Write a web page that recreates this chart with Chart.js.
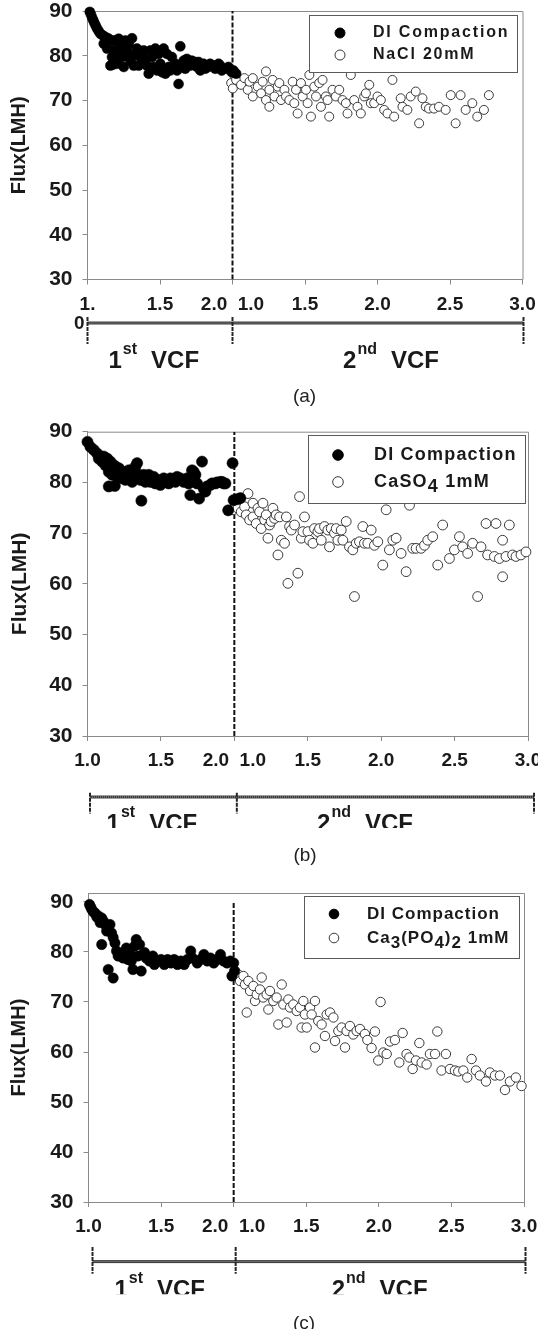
<!DOCTYPE html>
<html lang="en">
<head>
<meta charset="UTF-8">
<title>Flux(LMH) vs VCF</title>
<script src="https://cdn.jsdelivr.net/npm/chart.js@4.4.1/dist/chart.umd.min.js"></script>
<style>
  body { margin: 0; background: #fff; width: 538px; height: 1329px; position: relative; overflow: hidden; }
  canvas { position: absolute; left: 0; }
</style>
</head>
<body>
<canvas id="panelA" width="538" height="420" style="top:0px"></canvas>
<canvas id="panelB" width="538" height="460" style="top:420px"></canvas>
<canvas id="panelC" width="538" height="449" style="top:880px"></canvas>
<script>
// ---- shared labels ----
const yTicks = [30, 40, 50, 60, 70, 80, 90];
const xTickLabelsA = ['1.', '1.5', '2.0  1.0', '1.5', '2.0', '2.5', '3.0'];
const xTickLabels = ['1.0', '1.5', '2.0  1.0', '1.5', '2.0', '2.5', '3.0'];
const phaseLabels = [['1', 'st', 'VCF'], ['2', 'nd', 'VCF']];
const yTitle = 'Flux(LMH)';

// ---- panel (a): DI compaction (1st VCF) then NaCl 20mM (2nd VCF) ----
const namesA = ['DI Compaction', 'NaCl 20mM'];
const diVcfA = [1.016,1.024,1.032,1.040,1.048,1.057,1.066,1.077,1.089,1.103,
  1.112,1.117,1.132,1.135,1.147,1.158,1.164,1.169,1.175,1.181,
  1.181,1.193,1.198,1.204,1.215,1.220,1.227,1.238,1.240,1.250,
  1.261,1.273,1.284,1.285,1.296,1.307,1.319,1.330,1.341,1.353,
  1.365,1.387,1.399,1.410,1.422,1.434,1.445,1.456,1.468,1.479,
  1.491,1.502,1.514,1.525,1.537,1.548,1.560,1.571,1.582,1.606,
  1.617,1.628,1.640,1.651,1.663,1.674,1.685,1.709,1.720,1.743,
  1.755,1.766,1.778,1.800,1.812,1.835,1.846,1.869,1.881,1.904,
  1.915,1.926,1.938,1.961,1.972,1.995,2.007,2.025];
const diFluxA = [89.8,89.2,88.5,87.9,87.3,86.7,86.1,85.5,84.9,84.6,
  82.7,84.3,84.0,81.6,83.8,77.8,83.4,79.7,78.0,83.3,
  81.2,78.9,83.5,78.2,83.8,80.5,82.0,79.7,83.1,77.5,
  83.4,81.2,80.4,82.6,78.9,83.9,77.8,80.1,81.6,77.8,
  79.7,81.2,79.3,77.8,76.0,81.2,79.7,77.5,81.6,76.7,
  80.4,78.2,76.3,81.6,76.0,80.4,77.5,76.7,79.7,78.2,
  76.7,73.7,82.1,77.5,78.9,77.1,79.3,77.8,78.9,78.6,
  77.5,78.6,76.7,78.2,77.1,77.5,78.2,77.8,77.1,78.2,
  77.8,76.7,77.1,77.1,77.5,76.3,76.7,76.0];
const solVcfA = [0.991,1.002,1.013,1.025,1.059,1.082,1.105,1.117,1.140,1.140,
  1.174,1.197,1.208,1.231,1.231,1.254,1.254,1.277,1.289,1.312,
  1.323,1.335,1.358,1.369,1.392,1.415,1.426,1.438,1.449,1.472,
  1.484,1.507,1.518,1.530,1.541,1.564,1.576,1.598,1.610,1.621,
  1.644,1.656,1.667,1.690,1.713,1.736,1.759,1.782,1.793,1.816,
  1.839,1.862,1.885,1.908,1.920,1.943,1.954,1.977,2.000,2.023,
  2.046,2.069,2.103,2.115,2.160,2.172,2.206,2.229,2.264,2.287,
  2.310,2.333,2.355,2.390,2.424,2.470,2.505,2.539,2.573,2.608,
  2.654,2.688,2.734,2.768];
const solFluxA = [73.9,72.7,75.7,74.6,73.5,75.0,72.4,74.2,70.9,75.0,
  73.1,71.6,74.2,76.5,70.1,68.6,72.4,74.6,70.9,73.1,
  73.9,70.1,72.4,70.9,70.1,74.2,69.4,72.4,67.1,73.9,
  70.9,72.4,69.4,75.7,66.4,73.1,70.9,73.9,68.6,74.6,
  70.9,70.1,66.4,72.4,70.9,72.4,70.1,69.4,67.1,75.7,
  70.1,68.6,67.1,70.9,71.6,73.5,69.4,69.4,70.9,70.1,
  67.9,67.1,74.6,66.4,70.5,68.6,67.9,70.9,72.0,64.9,
  70.5,68.6,68.2,68.2,68.6,67.9,71.2,64.9,71.2,67.9,
  69.4,66.4,67.9,71.2];

// ---- panel (b): DI compaction then CaSO4 1mM ----
const namesB = ['DI Compaction', 'CaSO_4 1mM'];
const diVcfB = [1.000,1.020,1.043,1.066,1.077,1.088,1.100,1.111,1.122,1.134,
  1.145,1.145,1.156,1.168,1.179,1.186,1.190,1.202,1.213,1.224,
  1.236,1.247,1.258,1.270,1.281,1.292,1.304,1.315,1.326,1.338,
  1.349,1.360,1.367,1.383,1.394,1.406,1.417,1.428,1.451,1.462,
  1.474,1.496,1.508,1.519,1.542,1.553,1.565,1.587,1.599,1.610,
  1.632,1.644,1.655,1.678,1.689,1.700,1.712,1.723,1.735,1.746,
  1.760,1.780,1.791,1.803,1.814,1.837,1.848,1.871,1.882,1.905,
  1.916,1.927,1.939,1.958,1.988,1.995,2.023,2.041];
const diFluxB = [88.0,87.0,86.4,85.7,84.7,85.1,84.1,85.1,83.4,84.7,
  82.1,79.2,84.1,81.5,83.4,79.3,83.1,81.1,82.8,81.8,
  80.8,82.1,80.5,81.5,82.4,80.8,80.1,81.8,83.1,83.8,
  81.5,80.5,76.4,81.5,80.1,80.8,81.5,80.1,81.1,79.8,
  80.5,79.5,80.5,80.8,80.5,79.8,80.8,80.5,80.1,81.1,
  80.8,80.5,80.1,80.8,79.8,77.5,82.4,82.1,81.5,79.8,
  76.8,84.1,78.8,78.2,79.2,79.5,79.8,79.8,80.0,80.1,
  80.1,79.8,79.8,74.5,83.8,76.5,76.7,76.9];
const solVcfB = [0.991,1.009,1.025,1.047,1.070,1.081,1.093,1.104,1.127,1.127,
  1.149,1.161,1.172,1.183,1.195,1.206,1.217,1.229,1.240,1.251,
  1.263,1.274,1.285,1.297,1.308,1.320,1.342,1.354,1.365,1.376,
  1.388,1.410,1.433,1.444,1.456,1.467,1.478,1.501,1.512,1.535,
  1.546,1.569,1.580,1.592,1.614,1.637,1.648,1.660,1.682,1.694,
  1.705,1.728,1.739,1.762,1.784,1.807,1.818,1.830,1.852,1.875,
  1.886,1.909,1.932,1.954,1.977,2.011,2.034,2.056,2.079,2.102,
  2.136,2.170,2.193,2.215,2.238,2.272,2.295,2.317,2.351,2.385,
  2.419,2.465,2.499,2.533,2.555,2.589,2.623,2.657,2.680,2.714,
  2.725,2.771,2.782,2.805,2.827,2.827,2.850,2.873,2.895,2.918,
  2.952,2.986];
const solFluxB = [74.6,75.5,74.9,74.2,75.2,73.6,77.8,72.6,75.9,73.2,
  71.9,74.9,74.2,70.9,75.9,72.6,73.6,69.0,71.6,72.3,
  74.9,72.9,73.6,65.7,73.2,68.6,68.0,73.2,60.1,71.3,
  70.6,71.6,62.1,77.2,69.0,70.3,73.2,70.3,68.6,68.0,
  70.9,70.3,70.9,68.6,71.3,70.6,67.3,70.9,70.0,70.9,
  68.6,70.6,68.6,72.3,67.3,66.7,57.5,68.0,68.3,71.3,
  68.0,68.0,70.6,67.6,68.3,63.7,74.6,66.7,68.6,69.0,
  66.0,62.4,75.5,67.0,67.0,67.0,67.6,68.6,69.3,63.7,
  71.6,65.0,66.7,69.3,67.3,66.0,68.0,57.5,67.3,71.9,
  65.7,65.4,71.9,65.0,61.4,68.6,65.4,71.6,65.7,65.4,
  65.7,66.3];

// ---- panel (c): DI compaction then Ca3(PO4)2 1mM ----
const namesC = ['DI Compaction', 'Ca_3(PO_4)_2 1mM'];
const diVcfC = [1.007,1.015,1.023,1.034,1.045,1.057,1.068,1.080,1.091,1.091,
  1.102,1.114,1.125,1.136,1.136,1.148,1.159,1.170,1.170,1.182,
  1.193,1.204,1.227,1.238,1.261,1.272,1.284,1.295,1.306,1.318,
  1.329,1.340,1.352,1.363,1.375,1.386,1.397,1.420,1.443,1.454,
  1.477,1.500,1.522,1.545,1.568,1.590,1.613,1.636,1.659,1.681,
  1.704,1.716,1.749,1.772,1.795,1.818,1.840,1.863,1.886,1.909,
  1.931,1.954,1.977,1.988,2.000,2.006];
const diFluxC = [89.5,89.0,88.5,88.0,87.8,87.0,87.2,85.9,86.8,81.5,
  86.2,85.5,84.2,84.8,76.5,85.5,83.8,82.9,74.8,81.8,
  80.2,79.2,79.8,78.8,80.8,78.5,79.9,78.2,76.5,81.2,
  82.5,79.2,81.5,76.2,79.5,79.9,78.8,78.2,79.2,77.5,
  78.2,78.5,77.5,78.5,77.8,78.5,77.5,78.2,77.5,78.5,
  80.2,78.8,77.8,78.5,79.5,78.2,78.8,77.8,78.5,79.5,
  78.2,77.8,78.2,75.2,77.8,76.2];
const solVcfC = [1.009,1.032,1.044,1.067,1.078,1.090,1.101,1.113,1.136,1.147,
  1.159,1.181,1.193,1.204,1.227,1.239,1.250,1.273,1.296,1.308,
  1.331,1.342,1.365,1.377,1.388,1.411,1.434,1.457,1.468,1.480,
  1.491,1.503,1.526,1.537,1.560,1.560,1.583,1.606,1.629,1.641,
  1.664,1.687,1.698,1.721,1.744,1.767,1.778,1.801,1.824,1.847,
  1.870,1.904,1.921,1.950,1.973,1.996,2.012,2.031,2.054,2.077,
  2.111,2.141,2.164,2.191,2.210,2.233,2.256,2.279,2.295,2.329,
  2.352,2.387,2.403,2.432,2.462,2.490,2.524,2.547,2.582,2.609,
  2.639,2.669,2.696,2.738,2.765,2.800,2.834,2.869,2.903,2.944,
  2.983];
const solFluxC = [76.2,75.5,74.2,75.2,73.5,67.9,74.2,72.2,73.2,70.2,
  71.5,72.5,74.9,70.9,71.5,68.5,72.2,70.2,70.9,65.5,
  73.5,69.5,65.9,70.5,68.9,69.5,68.2,68.9,64.9,70.2,
  67.5,64.9,68.9,67.5,70.2,60.9,66.2,65.5,63.2,67.5,
  67.9,66.9,62.2,64.2,64.9,60.9,64.2,65.2,63.5,64.2,
  64.6,63.6,62.4,60.8,64.1,58.3,70.0,59.9,59.6,62.1,
  62.4,57.9,63.8,59.6,58.9,56.6,58.3,61.8,57.9,57.5,
  59.6,59.6,64.1,56.3,59.6,56.6,56.3,56.1,56.3,54.9,
  58.6,56.3,55.3,54.1,55.9,55.3,55.3,52.4,54.1,54.9,
  53.2];

const FONT = '"Liberation Sans", Arial, Helvetica, sans-serif';
const INK = '#1a1a1a';
const AXIS = '#8a8a8a';
const OPEN_EDGE = '#3a3a3a';

// "_4" style markers in a series name mean a subscript digit
function drawRichText(ctx, text, x, y, size, spacing) {
  ctx.font = `bold ${size}px ${FONT}`;
  ctx.letterSpacing = spacing + 'px';
  ctx.textAlign = 'left';
  ctx.textBaseline = 'middle';
  ctx.fillStyle = INK;
  text.split(/(_\d)/).filter(Boolean).forEach(part => {
    const sub = part[0] === '_';
    const s = sub ? part.slice(1) : part;
    ctx.fillText(s, x, sub ? y + size * 0.3 : y);
    x += ctx.measureText(s).width;
  });
  ctx.letterSpacing = '0px';
}

const framePlugin = {
  id: 'frame',
  beforeDatasetsDraw(chart) {
    const {ctx, chartArea: a} = chart;
    ctx.save();
    ctx.strokeStyle = AXIS;
    ctx.lineWidth = 1;
    ctx.beginPath();
    ctx.moveTo(a.left, a.top + 0.5);
    ctx.lineTo(a.right + 0.5, a.top + 0.5);
    ctx.lineTo(a.right + 0.5, a.bottom);
    ctx.stroke();
    ctx.restore();
  }
};

const legendBoxPlugin = {
  id: 'legendBox',
  afterDatasetsDraw(chart, args, o) {
    const ctx = chart.ctx;
    const ds = chart.data.datasets;
    ctx.save();
    ctx.fillStyle = '#fff';
    ctx.strokeStyle = '#5a5a5a';
    ctx.lineWidth = 1;
    ctx.fillRect(o.box[0], o.box[1], o.box[2] - o.box[0], o.box[3] - o.box[1]);
    ctx.strokeRect(o.box[0] + 0.5, o.box[1] + 0.5, o.box[2] - o.box[0], o.box[3] - o.box[1]);
    o.rows.forEach((y, i) => {
      ctx.beginPath();
      ctx.arc(o.markerX, y, o.markerR, 0, Math.PI * 2);
      ctx.fillStyle = ds[i].backgroundColor;
      ctx.fill();
      ctx.strokeStyle = ds[i].borderColor;
      ctx.lineWidth = 1;
      ctx.stroke();
      drawRichText(ctx, ds[i].label, o.textX, y, o.size, o.spacing);
    });
    ctx.restore();
  }
};

const bracketPlugin = {
  id: 'vcfBracket',
  afterDraw(chart, args, o) {
    const ctx = chart.ctx;
    const xs = [0, 1, 3].map((v, i) => chart.scales.x.getPixelForValue(v) + o.shift[i]);
    ctx.save();
    // bar: dark band with a dotted core
    ctx.fillStyle = '#3c3c3c';
    ctx.fillRect(xs[0], o.barY - 1.5, xs[2] - xs[0], 3);
    ctx.strokeStyle = '#9a9a9a';
    ctx.lineWidth = 1;
    ctx.setLineDash([1, 1]);
    ctx.beginPath();
    ctx.moveTo(xs[0], o.barY); ctx.lineTo(xs[2], o.barY);
    ctx.stroke();
    // end ticks
    ctx.strokeStyle = '#262626';
    ctx.lineWidth = 2;
    ctx.setLineDash([4, 1]);
    xs.forEach(x => {
      ctx.beginPath();
      ctx.moveTo(x, o.tickTop);
      ctx.lineTo(x, o.tickBottom);
      ctx.stroke();
    });
    ctx.setLineDash([]);
    ctx.fillStyle = INK;
    if (o.zero) {
      ctx.font = `bold 19px ${FONT}`;
      ctx.textAlign = 'right';
      ctx.textBaseline = 'middle';
      ctx.fillText('0', xs[0] - 3, o.barY + 0.5);
    }
    // 1st VCF / 2nd VCF
    ctx.save();
    ctx.beginPath();
    ctx.rect(0, 0, chart.width, o.clipY);
    ctx.clip();
    ctx.textAlign = 'left';
    ctx.textBaseline = 'alphabetic';
    phaseLabels.forEach((p, i) => {
      ctx.font = `bold 24px ${FONT}`;
      const w0 = ctx.measureText(p[0]).width;
      const w2 = ctx.measureText(p[2]).width;
      ctx.font = `bold 16px ${FONT}`;
      const w1 = ctx.measureText(p[1]).width;
      const gap = 14;
      let x = o.centers[i] - (w0 + 1 + w1 + gap + w2) / 2;
      ctx.font = `bold 24px ${FONT}`;
      ctx.fillText(p[0], x, o.baseY);
      x += w0 + 1;
      ctx.font = `bold 16px ${FONT}`;
      ctx.fillText(p[1], x, o.baseY - 14);
      x += w1 + gap;
      ctx.font = `bold 24px ${FONT}`;
      ctx.fillText(p[2], x, o.baseY);
    });
    ctx.restore();
    // caption
    ctx.font = `19px ${FONT}`;
    ctx.textAlign = 'center';
    ctx.textBaseline = 'middle';
    ctx.fillStyle = '#222';
    ctx.fillText(o.caption, o.captionX, o.captionY);
    ctx.restore();
  }
};

function makePanel(id, p) {
  const axisBase = {
    grid: { display: true, drawOnChartArea: false, drawTicks: true, tickLength: 5, color: AXIS },
    border: { display: true, color: AXIS, width: 1 }
  };
  return new Chart(document.getElementById(id), {
    type: 'scatter',
    data: {
      datasets: [
        {
          label: p.names[0],
          data: p.diVcf.map((v, i) => ({ x: v - 1, y: p.diFlux[i] })),
          pointRadius: p.diR, backgroundColor: '#000', borderColor: '#000', borderWidth: 0.5, clip: false
        },
        {
          label: p.names[1],
          data: p.solVcf.map((v, i) => ({ x: v, y: p.solFlux[i] })),
          pointRadius: p.solR, backgroundColor: '#fff', borderColor: OPEN_EDGE, borderWidth: 1, clip: false
        },
        {
          label: 'VCF boundary',
          data: [{ x: 1, y: 30 }, { x: 1, y: 90 }],
          showLine: true, pointRadius: 0, borderColor: '#111', borderWidth: 2, borderDash: [5, 2]
        }
      ]
    },
    options: {
      responsive: false,
      devicePixelRatio: 1,
      animation: false,
      events: [],
      layout: { padding: { top: p.top, right: 538 - p.right, left: 0, bottom: 0 } },
      scales: {
        x: {
          ...axisBase,
          type: 'linear', min: 0, max: 3,
          ticks: {
            stepSize: 0.5, autoSkip: false, maxRotation: 0, padding: 8.5, color: INK,
            font: { family: FONT, size: 19, weight: 'bold' },
            callback: v => p.xLabels[Math.round(v * 2)]
          },
          afterFit: s => { s.height = p.xAxisH; s.paddingLeft = 0; s.paddingRight = 0; }
        },
        y: {
          ...axisBase,
          min: 30, max: p.yMax,
          afterBuildTicks: s => { s.ticks = yTicks.map(v => ({ value: v })); },
          ticks: { padding: 10, color: INK, font: { family: FONT, size: 21, weight: 'bold' } },
          title: {
            display: true, text: yTitle, color: INK,
            font: { family: FONT, size: p.titleSize, weight: 'bold' },
            padding: { top: 7.5, bottom: 0 }
          },
          afterFit: s => { s.width = p.yAxisW; s.paddingTop = 0; s.paddingBottom = 0; }
        }
      },
      plugins: {
        legend: { display: false },
        tooltip: { enabled: false },
        legendBox: p.legend,
        vcfBracket: p.bracket
      }
    },
    plugins: [framePlugin, legendBoxPlugin, bracketPlugin]
  });
}

makePanel('panelA', {
  names: namesA, diVcf: diVcfA, diFlux: diFluxA, solVcf: solVcfA, solFlux: solFluxA,
  xLabels: xTickLabelsA, diR: 5, solR: 4.5, yMax: 90, titleSize: 20,
  top: 11, right: 522.5, yAxisW: 87.5, xAxisH: 140.5,
  legend: { box: [309, 15, 517, 72], rows: [33, 55], markerX: 340, markerR: 5, textX: 373, size: 16, spacing: 1.8 },
  bracket: { shift: [0, 0, 1], barY: 323, tickTop: 317, tickBottom: 344, zero: true,
    centers: [153.8, 391], baseY: 368, clipY: 420, caption: '(a)', captionX: 304.5, captionY: 396.5 }
});

makePanel('panelB', {
  names: namesB, diVcf: diVcfB, diFlux: diFluxB, solVcf: solVcfB, solFlux: solFluxB,
  xLabels: xTickLabels, diR: 5.6, solR: 4.9, yMax: 90, titleSize: 21,
  top: 11.7, right: 528, yAxisW: 87.5, xAxisH: 144,
  legend: { box: [308, 15, 525, 83], rows: [35, 62], markerX: 338, markerR: 5.3, textX: 374, size: 18, spacing: 1.2 },
  bracket: { shift: [2.5, 2.5, 6], barY: 377, tickTop: 372.7, tickBottom: 393.4, zero: false,
    centers: [151.9, 365], baseY: 410.6, clipY: 408, caption: '(b)', captionX: 305, captionY: 436 }
});

makePanel('panelC', {
  names: namesC, diVcf: diVcfC, diFlux: diFluxC, solVcf: solVcfC, solFlux: solFluxC,
  xLabels: xTickLabels, diR: 5.2, solR: 4.7, yMax: 91.8, titleSize: 20,
  top: 13, right: 524, yAxisW: 88.5, xAxisH: 127,
  legend: { box: [304, 16, 519, 78], rows: [34, 58], markerX: 334, markerR: 4.8, textX: 367, size: 17, spacing: 1.0 },
  bracket: { shift: [4, 2, 1.5], barY: 381.6, tickTop: 367, tickBottom: 393.7, zero: false,
    centers: [159.7, 379.6], baseY: 416.5, clipY: 414.3, caption: '(c)', captionX: 304, captionY: 444 }
});
</script>
</body>
</html>
